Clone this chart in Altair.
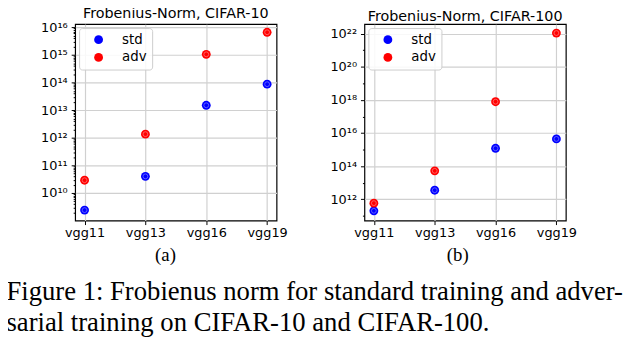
import altair as alt
import pandas as pd

models = ["vgg11", "vgg13", "vgg16", "vgg19"]
series = ["std", "adv"]
colors = ["#0000ff", "#ff0000"]

c10_std = [2.4e9, 4.0e10, 1.5e13, 8.7e13]
c10_adv = [2.9e10, 1.35e12, 1.05e15, 6.6e15]
c100_std = [2.0e11, 3.5e12, 1.2e15, 4.4e15]
c100_adv = [5.8e11, 5.2e13, 7.8e17, 1.1e22]

c10_domain = [1.0e9, 1.3e16]
c100_domain = [5.1e10, 3.8e22]
c10_major = [1e10, 1e11, 1e12, 1e13, 1e14, 1e15, 1e16]
c10_minor = [k * 10.0 ** d for d in range(9, 16) for k in range(2, 10)]
c100_major = [1e12, 1e14, 1e16, 1e18, 1e20, 1e22]
c100_minor = [1e11, 1e13, 1e15, 1e17, 1e19, 1e21]

titles = ["Frobenius-Norm, CIFAR-10", "Frobenius-Norm, CIFAR-100"]
subcaptions = ["(a)", "(b)"]
caption = ["Figure 1: Frobienus norm for standard training and adver-",
           "sarial training on CIFAR-10 and CIFAR-100."]

SUP = "⁰¹²³⁴⁵⁶⁷⁸⁹"
E = "round(log(datum.value)/LN10)"
label_expr = ("'10' + substring('%s', floor(%s/10), floor(%s/10)+1) + "
              "substring('%s', %s%%10, %s%%10+1)") % (SUP, E, E, SUP, E, E)


def panel(std_vals, adv_vals, domain, major, minor, title, sub, subx):
    df = pd.DataFrame({
        "model": models * 2,
        "series": ["std"] * len(models) + ["adv"] * len(models),
        "value": list(std_vals) + list(adv_vals),
    })
    yscale = alt.Scale(type="log", domain=domain, nice=False)
    xenc = alt.X("model:N", sort=models,
                 scale=alt.Scale(type="point", padding=0.155),
                 axis=alt.Axis(title=sub, labelAngle=0, grid=True,
                               titleFont="Liberation Serif", titleFontSize=19,
                               titleFontWeight="normal", titleColor="black",
                               titleX=subx, titleY=40, titleBaseline="alphabetic",
                               titleAlign="center", labelPadding=2))
    base = alt.Chart(df)
    pts = base.mark_circle(size=80, opacity=1).encode(
        x=xenc,
        y=alt.Y("value:Q", scale=yscale,
                axis=alt.Axis(orient="left", title=None, values=major,
                              labelExpr=label_expr, grid=True, labelPadding=4)),
        color=alt.Color("series:N", scale=alt.Scale(domain=series, range=colors),
                        legend=alt.Legend(title=None, orient="top-left", offset=4,
                                          padding=5, symbolOffset=8, labelOffset=17,
                                          rowPadding=3, labelFont="DejaVu Sans",
                                          labelFontSize=13.5, labelColor="black",
                                          symbolSize=80, symbolType="circle",
                                          strokeColor="#cccccc", cornerRadius=3,
                                          fillColor="rgba(255,255,255,0.85)")),
    )
    ring = base.mark_point(shape="circle", size=24, filled=False, stroke="white",
                           strokeWidth=0.8, opacity=0.45).encode(
        x=xenc,
        y=alt.Y("value:Q", scale=yscale,
                axis=alt.Axis(orient="left", title=None, values=minor, labels=False,
                              grid=False, ticks=True, tickSize=2, domain=False)),
    )
    return alt.layer(pts, ring).resolve_axis(y="independent").properties(
        width=204, height=199,
        title=alt.TitleParams(title, font="DejaVu Sans", fontSize=14.5,
                              fontWeight="normal", color="black", frame="group",
                              baseline="alphabetic", offset=-11),
    )


left = panel(c10_std, c10_adv, c10_domain, c10_major, c10_minor,
             titles[0], subcaptions[0], 91)
right = panel(c100_std, c100_adv, c100_domain, c100_major, c100_minor,
              titles[1], subcaptions[1], 94)

chart = alt.hconcat(left, right, spacing=89, bounds="flush").resolve_scale(
    x="independent", y="independent", color="independent"
).resolve_legend(color="independent").properties(
    autosize=alt.AutoSizeParams(type="none"),
    padding={"left": 68, "top": 13, "right": 564, "bottom": 309},
    title=alt.TitleParams(caption, orient="bottom", anchor="start",
                          font="Liberation Serif", fontSize=27,
                          fontWeight="normal", color="black", lineHeight=31,
                          baseline="alphabetic", offset=36, dx=-34),
).configure_view(
    stroke="black", strokeWidth=1.2
).configure_axis(
    labelFont="DejaVu Sans", labelFontSize=13, labelColor="black",
    tickColor="black", tickSize=4, domain=False,
    gridColor="#d0d0d0", gridWidth=1.2,
)

chart.save("out.html", embed_options={"renderer": "svg", "actions": False})
